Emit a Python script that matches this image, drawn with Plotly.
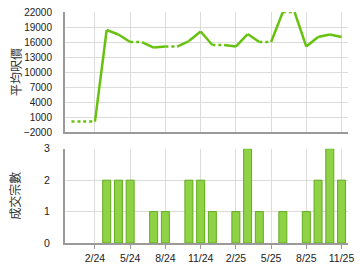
import plotly.graph_objects as go

# ---- data ----
months = ["12/23", "1/24", "2/24", "3/24", "4/24", "5/24", "6/24", "7/24", "8/24", "9/24",
          "10/24", "11/24", "12/24", "1/25", "2/25", "3/25", "4/25", "5/25", "6/25", "7/25",
          "8/25", "9/25", "10/25", "11/25"]
avg_price = [100, None, None, 18400, 17500, 16000, None, 14900, 15100, None,
             16200, 18100, 15400, None, 15100, 17600, 16000, None, 22000, None,
             15100, 17000, 17500, 17000]
counts = [0, 0, 0, 2, 2, 2, 0, 1, 1, 0,
          2, 2, 1, 0, 1, 3, 1, 0, 1, 0,
          1, 2, 3, 2]
tick_labels = ["2/24", "5/24", "8/24", "11/24", "2/25", "5/25", "8/25", "11/25"]

idx = list(range(len(months)))
tick_vals = [months.index(t) for t in tick_labels]

# carry-forward for months without transactions
filled = []
last = None
for v in avg_price:
    if v is not None:
        last = v
    filled.append(last)

sx, sy, dx, dy = [], [], [], []
for i in range(1, len(idx)):
    if avg_price[i] is not None:
        sx += [idx[i-1], idx[i], None]; sy += [filled[i-1], filled[i], None]
    else:
        dx += [idx[i-1], idx[i], None]; dy += [filled[i-1], filled[i], None]

bar_y = [c if c > 0 else None for c in counts]

GREEN = "#66c20e"
fig = go.Figure()
fig.add_trace(go.Scatter(x=dx, y=dy, mode="lines", line=dict(color=GREEN, width=2.5, dash="dot"),
                         xaxis="x", yaxis="y", hoverinfo="skip"))
fig.add_trace(go.Scatter(x=sx, y=sy, mode="lines", line=dict(color=GREEN, width=2.5),
                         xaxis="x", yaxis="y", hoverinfo="skip"))
fig.add_trace(go.Bar(x=idx, y=bar_y, width=0.68,
                     marker=dict(color="#8fd246", line=dict(color="#62ac1e", width=1)),
                     xaxis="x2", yaxis="y2"))

xr = [-0.55, 23.55]
grid = "#dcdcdc"
axcol = "#9a9a9a"
tickfont = dict(family="Liberation Sans, Arial", size=10, color="#222")

fig.update_layout(
    width=360, height=270, margin=dict(l=65, r=6, t=7, b=26),
    paper_bgcolor="white", plot_bgcolor="white", showlegend=False,
    xaxis=dict(domain=[0, 1], anchor="y", range=xr, tickvals=tick_vals, showticklabels=False,
               showgrid=True, gridcolor=grid, gridwidth=1, zeroline=False,
               showline=True, linecolor=axcol, linewidth=2, ticks=""),
    yaxis=dict(domain=[0.48, 1], anchor="x", range=[-2000, 22000], tick0=-2000, dtick=3000,
               tickformat="d",
               showgrid=True, gridcolor=grid, zeroline=False, showline=True, linecolor=axcol, linewidth=2,
               tickfont=tickfont, ticklabelstandoff=9),
    xaxis2=dict(domain=[0, 1], anchor="y2", range=xr, tickvals=tick_vals, ticktext=tick_labels,
                showgrid=True, gridcolor=grid, zeroline=False, showline=True, linecolor=axcol, linewidth=2,
                ticks="outside", ticklen=4, tickcolor=axcol,
                tickfont=dict(family="Liberation Sans, Arial", size=10.5, color="#222"),
                ticklabeloverflow="allow"),
    yaxis2=dict(domain=[0, 0.408], anchor="x2", range=[0, 3], dtick=1,
                showgrid=True, gridcolor=grid, zeroline=False, showline=True, linecolor=axcol, linewidth=2,
                tickfont=dict(family="Liberation Sans, Arial", size=10.5, color="#222"),
                ticklabelstandoff=11),
)

cjk = dict(family="Noto Sans CJK TC", size=12, color="#333")
fig.add_annotation(text="平均呎價", textangle=-90, xref="paper", yref="paper",
                   x=-0.177, y=0.74, xanchor="center", yanchor="middle", showarrow=False, font=cjk)
fig.add_annotation(text="成交宗數", textangle=-90, xref="paper", yref="paper",
                   x=-0.177, y=0.204, xanchor="center", yanchor="middle", showarrow=False, font=cjk)

fig.write_html("out.html")
